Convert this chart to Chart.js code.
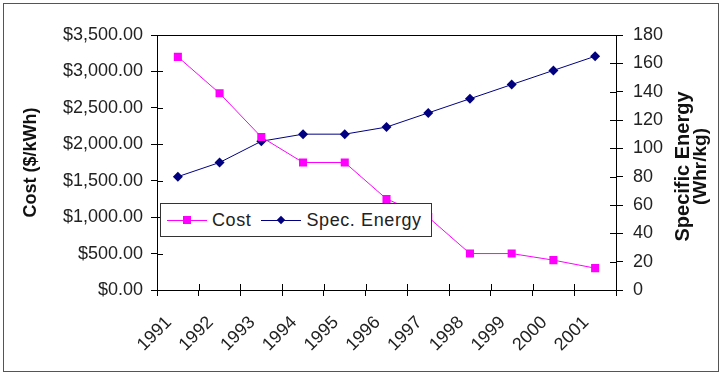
<!DOCTYPE html>
<html lang="en">
  <head>
    <meta charset="UTF-8" />
    <title>Cost and Specific Energy</title>
    <style>
      body {
        margin: 0;
        background: #fff;
        font-family: "Liberation Sans", Arial, sans-serif;
      }
      .wrap {
        position: relative;
        width: 722px;
        height: 375px;
      }
      .frame {
        position: absolute;
        left: 3px;
        top: 3px;
        width: 714px;
        height: 367px;
        border: 1px solid #555;
        pointer-events: none;
      }
      .legend {
        position: absolute;
        left: 160px;
        top: 203px;
        width: 270px;
        height: 32px;
        border: 1px solid #333;
        background: #fff;
        display: flex;
        align-items: center;
        font-size: 18px;
        letter-spacing: 0.6px;
        color: #222;
      }
      .legend .item {
        display: flex;
        align-items: center;
        margin-left: 6px;
      }
      .legend .item + .item {
        margin-left: 10px;
      }
      .legend .sample {
        position: relative;
        width: 40px;
        height: 10px;
        margin-right: 5px;
      }
      .legend .sample .line {
        position: absolute;
        left: 0;
        right: 0;
        top: 5px;
        border-top: 1px solid;
      }
      .legend .sample .mark {
        position: absolute;
        left: 16px;
        top: 1px;
        width: 8px;
        height: 8px;
      }
      .legend .sample .mark.diamond {
        left: 17px;
        top: 2px;
        width: 6px;
        height: 6px;
        transform: rotate(45deg);
      }
    </style>
  </head>
  <body>
    <div class="wrap">
      <canvas id="chart" width="722" height="375"></canvas>
      <div class="frame"></div>
      <div class="legend" id="legend"></div>
    </div>
    <script src="https://cdn.jsdelivr.net/npm/chart.js"></script>
    <script>
      const years = ["1991", "1992", "1993", "1994", "1995", "1996", "1997", "1998", "1999", "2000", "2001"];
      const cost = [3200, 2700, 2100, 1750, 1750, 1250, 1000, 500, 500, 410, 300];
      const specEnergy = [80, 90, 105, 110, 110, 115, 125, 135, 145, 155, 165];

      const FONT = "'Liberation Sans', Arial, sans-serif";
      const TEXT = "#222";

      function money(v) {
        return "$" + v.toLocaleString("en-US", { minimumFractionDigits: 2, maximumFractionDigits: 2 });
      }

      // excel style tick marks cross the axis, draw the inner half + the top border
      const frameBits = {
        id: "frameBits",
        beforeDatasetsDraw(chart) {
          const ctx = chart.ctx;
          const a = chart.chartArea;
          const { x, y, y2 } = chart.scales;
          ctx.save();
          ctx.strokeStyle = "#000";
          ctx.lineWidth = 1;
          ctx.beginPath();
          ctx.moveTo(a.left, a.top + 0.5);
          ctx.lineTo(a.right, a.top + 0.5);
          y.ticks.forEach((t, i) => {
            const py = Math.round(y.getPixelForTick(i)) + 0.5;
            ctx.moveTo(a.left, py);
            ctx.lineTo(a.left + 6, py);
          });
          y2.ticks.forEach((t, i) => {
            const py = Math.round(y2.getPixelForTick(i)) + 0.5;
            ctx.moveTo(a.right, py);
            ctx.lineTo(a.right - 6, py);
          });
          const half = (x.getPixelForTick(1) - x.getPixelForTick(0)) / 2;
          for (let i = 0; i <= years.length; i++) {
            const px = Math.round(x.getPixelForTick(0) - half + i * half * 2) + 0.5;
            ctx.moveTo(px, a.bottom);
            ctx.lineTo(px, a.bottom - 6);
          }
          ctx.stroke();
          ctx.restore();
        },
        afterDraw(chart) {
          // right axis title reads bottom to top, like the left one
          const ctx = chart.ctx;
          const a = chart.chartArea;
          const cy = (a.top + a.bottom) / 2 + 4;
          ctx.save();
          ctx.fillStyle = "#111";
          ctx.font = "bold 20px " + FONT;
          ctx.textAlign = "center";
          ctx.textBaseline = "middle";
          ctx.translate(683, cy);
          ctx.rotate(-Math.PI / 2);
          ctx.fillText("Specific Energy", 0, 0);
          ctx.font = "bold 19px " + FONT;
          ctx.fillText("(Whr/kg)", 0, 18);
          ctx.restore();
        },
      };

      const chart = new Chart(document.getElementById("chart"), {
        type: "line",
        data: {
          labels: years,
          datasets: [
            {
              label: "Cost",
              data: cost,
              yAxisID: "y",
              borderColor: "#ff00ff",
              backgroundColor: "#ff00ff",
              borderWidth: 1,
              pointStyle: "rect",
              pointRadius: 5.7,
              pointBorderWidth: 0,
              tension: 0,
            },
            {
              label: "Spec. Energy",
              data: specEnergy,
              yAxisID: "y2",
              borderColor: "#000080",
              backgroundColor: "#000080",
              borderWidth: 1,
              pointStyle: "rectRot",
              pointRadius: 5,
              pointBorderWidth: 0,
              tension: 0,
            },
          ],
        },
        options: {
          responsive: false,
          animation: false,
          layout: { padding: { top: 35, left: 0, right: 0, bottom: 0 } },
          plugins: {
            legend: { display: false },
            tooltip: { enabled: false },
          },
          scales: {
            x: {
              offset: true,
              grid: {
                offset: true,
                drawOnChartArea: false,
                color: "#000",
                tickLength: 6,
              },
              border: { color: "#000" },
              ticks: {
                color: TEXT,
                font: { family: FONT, size: 18 },
                minRotation: 45,
                maxRotation: 45,
                labelOffset: -9,
                padding: 16,
              },
              afterFit(s) {
                s.height = 85;
              },
            },
            y: {
              position: "left",
              min: 0,
              max: 3500,
              ticks: {
                stepSize: 500,
                color: TEXT,
                font: { family: FONT, size: 18 },
                padding: 8,
                callback: (v) => money(v),
              },
              grid: { drawOnChartArea: false, color: "#000", tickLength: 6 },
              border: { color: "#000" },
              title: {
                display: true,
                text: "Cost ($/kWh)",
                color: "#111",
                font: { family: FONT, size: 18, weight: "bold" },
                padding: { top: 20, bottom: 0 },
              },
              afterFit(s) {
                s.width = 157;
              },
            },
            y2: {
              position: "right",
              min: 0,
              max: 180,
              ticks: {
                stepSize: 20,
                color: TEXT,
                font: { family: FONT, size: 18 },
                padding: 10,
              },
              grid: { drawOnChartArea: false, color: "#000", tickLength: 7 },
              border: { color: "#000" },
              afterFit(s) {
                s.width = 106;
              },
            },
          },
        },
        plugins: [frameBits],
      });

      // html legend from the datasets
      const legend = document.getElementById("legend");
      chart.data.datasets.forEach((ds) => {
        const item = document.createElement("div");
        item.className = "item";
        const shape = ds.pointStyle === "rectRot" ? "mark diamond" : "mark";
        item.innerHTML =
          '<span class="sample"><span class="line" style="border-color:' + ds.borderColor +
          '"></span><span class="' + shape + '" style="background:' + ds.backgroundColor +
          '"></span></span><span>' + ds.label + "</span>";
        legend.appendChild(item);
      });
    </script>
  </body>
</html>
